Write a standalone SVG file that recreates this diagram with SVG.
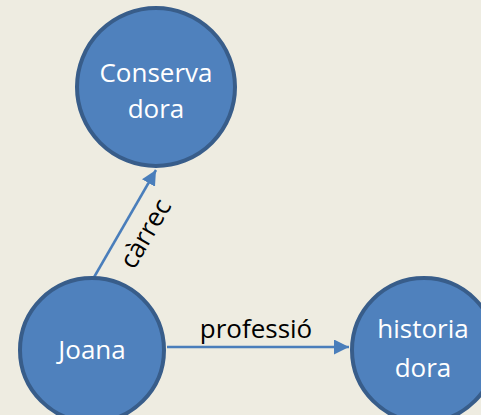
<svg xmlns="http://www.w3.org/2000/svg" width="481" height="415" viewBox="0 0 481 415">
<style>
.node{fill:#4f81bd;stroke:#385d8a;stroke-width:4}
.nt{font-family:"Open Sans","Liberation Sans",sans-serif;font-size:26px;fill:#ffffff;text-anchor:middle}
.el{font-family:"Open Sans","Liberation Sans",sans-serif;font-size:26px;fill:#000000;text-anchor:middle}
.edge{stroke:#4a7ebb;stroke-width:2.5;fill:none}
</style>
<defs>
<marker id="ah" viewBox="0 0 10 10" refX="10" refY="5" markerWidth="6" markerHeight="6" markerUnits="strokeWidth" orient="auto">
<path d="M0,0 L10,5 L0,10 z" fill="#4a7ebb"/>
</marker>
</defs>
<rect width="481" height="415" fill="#eeece1"/>
<g id="connectors">
<line class="edge" x1="93" y1="279" x2="156" y2="170" marker-end="url(#ah)"/>
<line class="edge" x1="167" y1="347" x2="349" y2="347" marker-end="url(#ah)"/>
<text class="el" transform="translate(153,238) rotate(-59.6)">càrrec</text>
<text class="el" x="256" y="338">professió</text>
</g>
<g id="conservadora">
<circle class="node" cx="156" cy="87" r="79"/>
<text class="nt" x="156" y="82">Conserva</text>
<text class="nt" x="156" y="118">dora</text>
</g>
<g id="joana">
<circle class="node" cx="92" cy="350" r="72"/>
<text class="nt" x="92" y="359">Joana</text>
</g>
<g id="historiadora">
<circle class="node" cx="424" cy="350" r="72"/>
<text class="nt" x="423" y="338">historia</text>
<text class="nt" x="423" y="377">dora</text>
</g>
</svg>
